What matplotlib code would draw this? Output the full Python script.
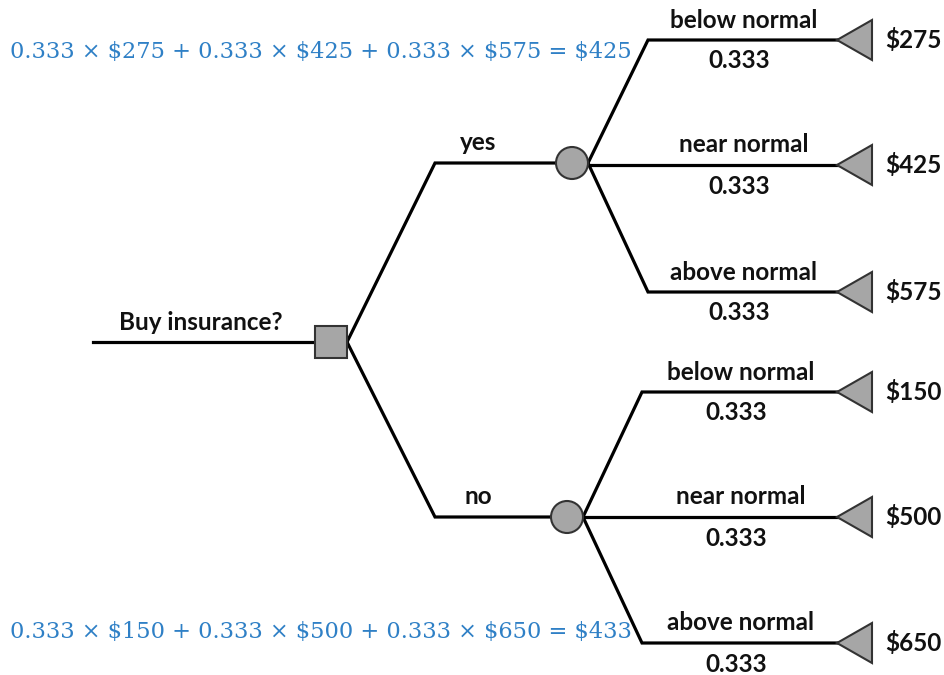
import matplotlib
matplotlib.use("Agg")
import matplotlib.pyplot as plt
from matplotlib.patches import Rectangle, Circle, Polygon

# ---- data ----
decision_question = "Buy insurance?"
decisions = ["yes", "no"]
outcomes = ["below normal", "near normal", "above normal"]
probs_yes = [0.333, 0.333, 0.333]
probs_no = [0.333, 0.333, 0.333]
payoffs_yes = [275, 425, 575]
payoffs_no = [150, 500, 650]

# ---- layout (pixel coordinates) ----
W, H = 944, 675
fig = plt.figure(figsize=(W / 100, H / 100), dpi=100)
ax = fig.add_axes([0, 0, 1, 1])
ax.set_xlim(0, W)
ax.set_ylim(H, 0)
ax.axis("off")

LW = 2.3
GRAY = "#a6a6a6"
EDGE = "#333333"
BLUE = "#2f80c6"
LBL_FONT = dict(family=["Lato", "DejaVu Sans"], fontweight="bold", fontsize=17.5, color="#111111")
EQ_FONT = dict(family=["DejaVu Serif"], fontsize=16.2, color=BLUE)

root_y = 342
sq_x, sq_s = 331, 32
ax.plot([93, sq_x], [root_y, root_y], color="black", lw=LW, zorder=1)
ax.add_patch(Rectangle((sq_x - sq_s / 2, root_y - sq_s / 2), sq_s, sq_s,
                       facecolor=GRAY, edgecolor=EDGE, lw=1.5, zorder=3))
ax.text(201, 322, decision_question, ha="center", va="center", **LBL_FONT)

branch_specs = [
    dict(y=163, cx=572, ys=[40, 165, 292], corner=648, pay=payoffs_yes, pr=probs_yes, eq_y=52),
    dict(y=517, cx=567, ys=[392, 517, 643], corner=642, pay=payoffs_no, pr=probs_no, eq_y=632),
]

r = 16
tip_x = 839
tri_w, tri_h = 33, 40
for dec, spec in zip(decisions, branch_specs):
    y = spec["y"]
    cx = spec["cx"]
    ax.plot([sq_x + sq_s / 2, 435, cx], [root_y, y, y], color="black", lw=LW,
            zorder=1, solid_joinstyle="miter")
    ax.text(478, y - 20, dec, ha="center", va="center", **LBL_FONT)
    ax.add_patch(Circle((cx, y), r, facecolor=GRAY, edgecolor=EDGE, lw=1.5, zorder=3))
    ox = cx + r
    for name, ly, pay, p in zip(outcomes, spec["ys"], spec["pay"], spec["pr"]):
        if abs(ly - y) < 5:
            ax.plot([ox, tip_x], [ly, ly], color="black", lw=LW, zorder=1)
        else:
            ax.plot([ox, spec["corner"], tip_x], [y, ly, ly], color="black", lw=LW,
                    zorder=1, solid_joinstyle="miter")
        ax.add_patch(Polygon([(tip_x - 2, ly), (tip_x + tri_w, ly - tri_h / 2),
                              (tip_x + tri_w, ly + tri_h / 2)], closed=True,
                             facecolor=GRAY, edgecolor=EDGE, lw=1.5, zorder=3))
        mid = (spec["corner"] + tip_x) / 2
        ax.text(mid, ly - 20, name, ha="center", va="center", **LBL_FONT)
        ax.text(mid - 4, ly + 21, f"{p:.3f}", ha="center", va="center", **LBL_FONT)
        ax.text(885, ly, f"\\${pay}", ha="left", va="center", **LBL_FONT)
    ev = sum(p * v for p, v in zip(spec["pr"], spec["pay"]))
    terms = " + ".join(f"{p:.3f} \u00d7 \\${v}" for p, v in zip(spec["pr"], spec["pay"]))
    ax.text(10, spec["eq_y"], f"{terms} = \\${ev:.0f}", ha="left", va="center", **EQ_FONT)

fig.savefig("out.png", dpi=100, facecolor="white")
